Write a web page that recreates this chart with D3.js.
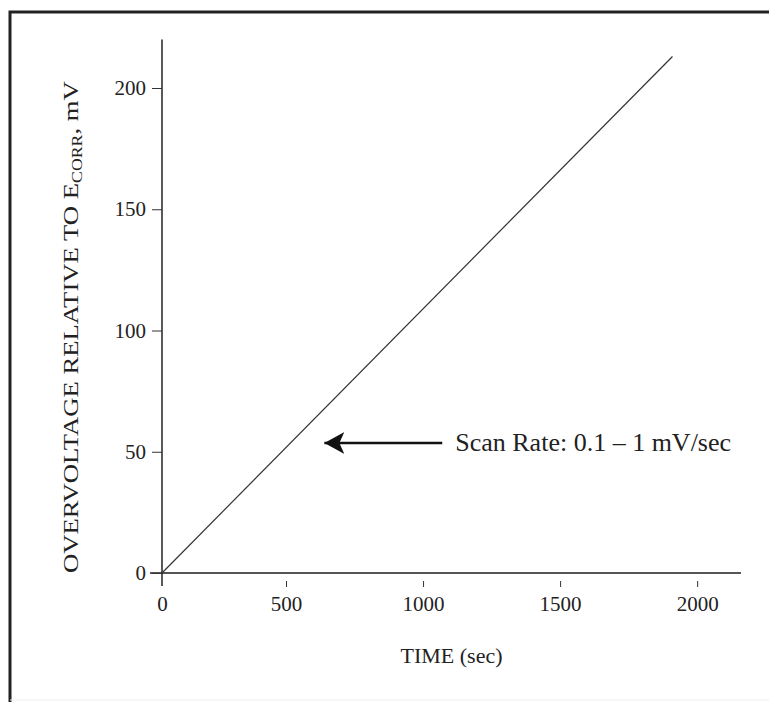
<!DOCTYPE html>
<html>
<head>
<meta charset="utf-8">
<script src="https://cdn.jsdelivr.net/npm/d3@7"></script>
<style>
  body { margin: 0; background: #fff; }
  text { font-family: "Liberation Serif", "Times New Roman", serif; fill: #222; }
</style>
</head>
<body>
<svg width="769" height="702"></svg>
<script>
const [w, h] = [769, 702];

// data
const lineTime = [0, 1910];
const lineVolt = [0, 213];
const xTicks = [0, 500, 1000, 1500, 2000];
const yTicks = [0, 50, 100, 150, 200];
const scanLabel = 'Scan Rate: 0.1 \u2013 1 mV/sec';
const arrowTime = [1070, 640];   // from, to
const arrowVolt = 53.6;

const svg = d3.select('svg');

// frame (left + top edge of the scanned box)
svg.append('path')
    .attr('d', `M10,${h} V12 H${w}`)
    .attr('fill', 'none')
    .attr('stroke', '#222')
    .attr('stroke-width', 3);
svg.append('line')
    .attr('x1', 10).attr('x2', w)
    .attr('y1', h - 2).attr('y2', h - 2)
    .attr('stroke', '#eee');

// the original axis is not evenly spaced near 0
const xScale = d3.scaleLinear()
                    .domain([0, 500, 2160])
                    .range([162, 286, 741]);

const yScale = d3.scaleLinear()
                    .domain([0, 220])
                    .range([573, 39.5]);

// x axis
const xAxis = d3.axisBottom(xScale)
                    .tickValues(xTicks)
                    .tickSize(0)
                    .tickPadding(23)
                    .tickFormat(d3.format('d'));

const gx = svg.append('g')
    .attr('transform', `translate(0, ${yScale(0)})`)
    .call(xAxis);
gx.select('.domain')
    .attr('d', `M${xScale(0) - 12},0 H${xScale(2160)}`)
    .attr('stroke', '#555')
    .attr('stroke-width', 2);
gx.selectAll('.tick')
    .filter(d => d !== 0)
    .append('line')
        .attr('y1', 8)
        .attr('y2', 14)
        .attr('stroke', '#333');
gx.selectAll('.tick text')
    .attr('font-size', 21)
    .attr('font-family', 'Liberation Serif')
    .attr('fill', '#222');

// y axis
const yAxis = d3.axisLeft(yScale)
                    .tickValues(yTicks)
                    .tickSize(10)
                    .tickPadding(6);

const gy = svg.append('g')
    .attr('transform', `translate(${xScale(0)}, 0)`)
    .call(yAxis);
gy.select('.domain')
    .attr('d', `M0,${yScale(220)} V${yScale(0) + 13}`)
    .attr('stroke', '#222')
    .attr('stroke-width', 1.5);
gy.selectAll('.tick line').attr('stroke', '#333');
gy.selectAll('.tick text')
    .attr('font-size', 21)
    .attr('font-family', 'Liberation Serif')
    .attr('fill', '#222');

// axis titles
svg.append('text')
    .attr('x', (xScale(0) + xScale(2160)) / 2)
    .attr('y', 663)
    .attr('text-anchor', 'middle')
    .attr('font-size', 22)
    .text('TIME (sec)');

// the scan is stretched vertically, so the rotated title runs long
const yl = svg.append('text')
    .attr('transform', `translate(78, ${yScale(0)}) rotate(-90) scale(1.27, 1)`)
    .attr('font-size', 21);
yl.append('tspan').text('OVERVOLTAGE RELATIVE TO E');
yl.append('tspan').attr('font-size', 14).attr('dy', 4).text('CORR');
yl.append('tspan').attr('dy', -4).text(', mV');

// the ramp
const line = d3.line()
                .x(d => xScale(d[0]))
                .y(d => yScale(d[1]));

svg.append('path')
    .datum(d3.zip(lineTime, lineVolt))
    .attr('d', line)
    .attr('fill', 'none')
    .attr('stroke', '#333')
    .attr('stroke-width', 1.2);

// annotation arrow
svg.append('defs').append('marker')
    .attr('id', 'head')
    .attr('viewBox', '0 0 20 22')
    .attr('refX', 20)
    .attr('refY', 11)
    .attr('markerWidth', 20)
    .attr('markerHeight', 22)
    .attr('markerUnits', 'userSpaceOnUse')
    .attr('orient', 'auto')
    .append('path')
        .attr('d', 'M0,0 L20,11 L0,22 L5,11 Z')
        .attr('fill', '#111');

svg.append('line')
    .attr('x1', xScale(arrowTime[0]))
    .attr('x2', xScale(arrowTime[1]))
    .attr('y1', yScale(arrowVolt))
    .attr('y2', yScale(arrowVolt))
    .attr('stroke', '#111')
    .attr('stroke-width', 2.5)
    .attr('marker-end', 'url(#head)');

svg.append('text')
    .attr('x', xScale(arrowTime[0]) + 13)
    .attr('y', yScale(arrowVolt) + 8)
    .attr('font-size', 26)
    .text(scanLabel);
</script>
</body>
</html>
